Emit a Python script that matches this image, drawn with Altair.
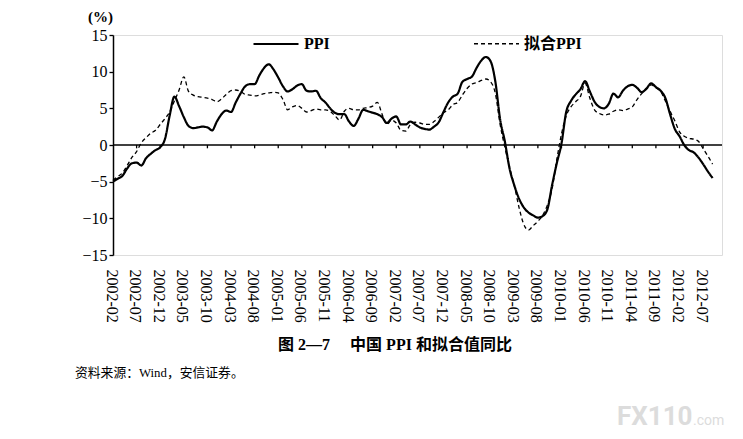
import altair as alt
import pandas as pd

# x categories: months from 2002-02 to 2012-11 (axis extends a little past the data)
months_all = [p.strftime("%Y-%m") for p in pd.period_range("2002-02", "2012-11", freq="M")]
tick_labels = months_all[::5][:26]          # 2002-02 ... 2012-07
series_names = ["PPI", "拟合PPI"]

ppi = [-5.0, -4.6, -4.2, -3.2, -2.5, -2.4, -2.8, -1.8, -1.2, -0.7,
       -0.3, 0.8, 4.0, 6.6, 5.3, 3.8, 2.6, 2.3, 2.4, 2.5,
       2.4, 2.0, 3.2, 4.2, 4.7, 4.5, 5.8, 7.0, 8.0, 8.3,
       8.3, 9.5, 10.5, 11.0, 10.3, 9.2, 8.0, 7.3, 7.6, 8.1,
       8.3, 7.4, 7.3, 7.4, 6.4, 5.8, 5.0, 4.4, 4.2, 4.2,
       3.2, 2.6, 3.6, 4.8, 4.6, 4.4, 4.2, 3.8, 3.0, 3.6,
       3.9, 2.8, 2.8, 3.2, 2.8, 2.4, 2.2, 2.1, 2.5, 3.1,
       4.5, 5.8, 6.6, 7.0, 8.6, 9.0, 9.3, 10.5, 11.5, 12.0,
       11.4, 8.6, 3.5, 0.5, -3.2, -5.5, -7.3, -8.5, -9.2, -9.6,
       -9.9, -9.7, -8.8, -5.5, -2.5, 0.2, 4.5, 6.0, 6.9, 7.6,
       8.7, 7.3, 5.9, 5.2, 5.0, 5.6, 7.0, 6.5, 7.4, 8.0,
       8.2, 7.8, 7.2, 7.7, 8.4, 7.9, 7.4, 6.4, 4.2, 2.2,
       1.2, 0.0, -0.7, -1.0, -1.7, -2.6, -3.6, -4.5]

fit = [-4.8, -4.3, -3.8, -2.8, -1.7, -0.9, 0.3, 1.0, 1.6, 2.0,
       2.8, 3.6, 4.5, 6.0, 7.5, 9.3, 7.3, 6.8, 6.6, 6.5,
       6.4, 6.2, 5.9, 6.3, 6.9, 7.4, 7.5, 7.3, 6.9, 6.8,
       6.7, 6.8, 7.0, 7.1, 7.2, 7.1, 6.2, 4.8, 5.2, 5.4,
       5.0, 4.5, 4.7, 4.9, 4.8, 4.8, 4.6, 4.0, 3.4, 4.6,
       5.0, 4.8, 4.8, 5.0, 5.1, 5.3, 5.8, 4.2, 2.8, 3.4,
       3.0, 2.0, 1.9, 2.8, 3.1, 3.0, 2.8, 2.8, 3.2, 3.8,
       4.4, 4.8, 5.5, 5.8, 6.8, 7.7, 8.3, 8.5, 8.8, 9.0,
       8.6, 7.0, 2.8, -0.3, -3.0, -5.5, -8.5, -10.8, -11.6, -11.0,
       -10.4, -9.6, -8.2, -6.0, -2.0, 1.5, 4.0, 5.2, 5.9, 6.6,
       8.4, 6.4, 4.8, 4.3, 4.1, 4.2, 4.6, 4.8, 4.7, 4.9,
       5.2, 6.2, 7.0, 7.6, 8.2, 7.8, 7.3, 6.0, 4.6, 3.3,
       1.8, 1.2, 0.9, 0.8, 0.5, -0.5, -1.5, -2.6]

y_ticks = [-15, -10, -5, 0, 5, 10, 15]

caption_text = "图 2—7\u3000 中国 PPI 和拟合值同比"
source_text = "资料来源：Wind，安信证券。"

n = len(ppi)
df = pd.DataFrame({
    "month": months_all[:n] * 2,
    "value": ppi + fit,
    "series": [series_names[0]] * n + [series_names[1]] * n,
})

serif = "Liberation Serif, Noto Sans CJK SC"

legend = alt.Legend(
    orient="none", legendX=139, legendY=-15, direction="horizontal", title=None,
    symbolType="stroke", symbolSize=2025, symbolStrokeWidth=1.6, symbolStrokeColor="black",
    labelFont=serif, labelFontSize=16, labelFontWeight="bold", labelColor="black",
    labelOffset=4, columnPadding=141, padding=0,
)

x_scale = alt.Scale(domain=months_all, type="point", padding=0)
x_axis = alt.Axis(values=tick_labels, labelAngle=90, labelAlign="left", labelBaseline="middle",
                  domain=False, ticks=False, grid=False,
                  labelPadding=14, labelFont="Liberation Serif", labelFontSize=16,
                  labelColor="black", labelOverlap=False, labelOffset=-2, title=None)
y_scale = alt.Scale(domain=[-15, 15], nice=False, zero=False)
y_axis = alt.Axis(values=y_ticks, grid=False, domainColor="black", domainWidth=1.5,
                  tickColor="black", tickSize=4, tickWidth=1.3, labelOverlap=False,
                  labelFlush=False,
                  labelFont="Liberation Serif", labelFontSize=16, labelColor="black",
                  labelPadding=2, title="(%)", titleAngle=0, titleAlign="center",
                  titleBaseline="middle", titleX=-13, titleY=-19,
                  titleFont="Liberation Serif", titleFontSize=15, titleFontWeight="bold",
                  titleColor="black")

lines = alt.Chart(df).mark_line(interpolate="monotone").encode(
    x=alt.X("month:O", scale=x_scale, axis=x_axis),
    y=alt.Y("value:Q", scale=y_scale, axis=y_axis),
    color=alt.Color("series:N", scale=alt.Scale(domain=series_names, range=["black", "black"]),
                    legend=legend),
    strokeDash=alt.StrokeDash("series:N", scale=alt.Scale(domain=series_names, range=[[1, 0], [4, 3]]),
                              legend=legend),
    strokeWidth=alt.StrokeWidth("series:N", scale=alt.Scale(domain=series_names, range=[2.2, 1.3]),
                                legend=None),
)

zero_line = alt.Chart(pd.DataFrame({"value": [0]})).mark_rule(color="black", strokeWidth=1.5).encode(
    y=alt.Y("value:Q", scale=y_scale, axis=y_axis)
)

ticks_df = pd.DataFrame({"month": tick_labels[1:], "value": [0] * (len(tick_labels) - 1),
                         "low": [-0.45] * (len(tick_labels) - 1)})
zero_ticks = alt.Chart(ticks_df).mark_rule(color="black", strokeWidth=1.3).encode(
    x=alt.X("month:O", scale=x_scale, axis=x_axis),
    y=alt.Y("value:Q", scale=y_scale, axis=y_axis),
    y2="low:Q",
)

caption = alt.Chart(pd.DataFrame({"t": [caption_text]})).mark_text(
    font=serif, fontSize=16, fontWeight="bold", align="center", baseline="middle", color="black"
).encode(x=alt.value(282), y=alt.value(310), text="t:N")

source = alt.Chart(pd.DataFrame({"t": [source_text]})).mark_text(
    font=serif, fontSize=12.8, align="left", baseline="middle", color="black"
).encode(x=alt.value(-38), y=alt.value(338), text="t:N")

wm1 = alt.Chart(pd.DataFrame({"t": ["FX110"]})).mark_text(
    font="Roboto", fontSize=26, fontWeight="bold", align="left", baseline="alphabetic", color="#dcdcdc"
).encode(x=alt.value(504), y=alt.value(390), text="t:N")

wm2 = alt.Chart(pd.DataFrame({"t": [".com"]})).mark_text(
    font="Roboto", fontSize=14, align="left", baseline="alphabetic", color="#dcdcdc"
).encode(x=alt.value(580), y=alt.value(390), text="t:N")

chart = alt.layer(lines, zero_line, zero_ticks, caption, source, wm1, wm2).properties(
    width=609, height=220,
    autosize=alt.AutoSizeParams(type="none"),
    padding={"left": 105, "top": 27, "right": 13, "bottom": 176},
).configure_view(stroke=None).configure(background="white")

chart.save("out.html", embed_options={"renderer": "svg", "actions": False})
